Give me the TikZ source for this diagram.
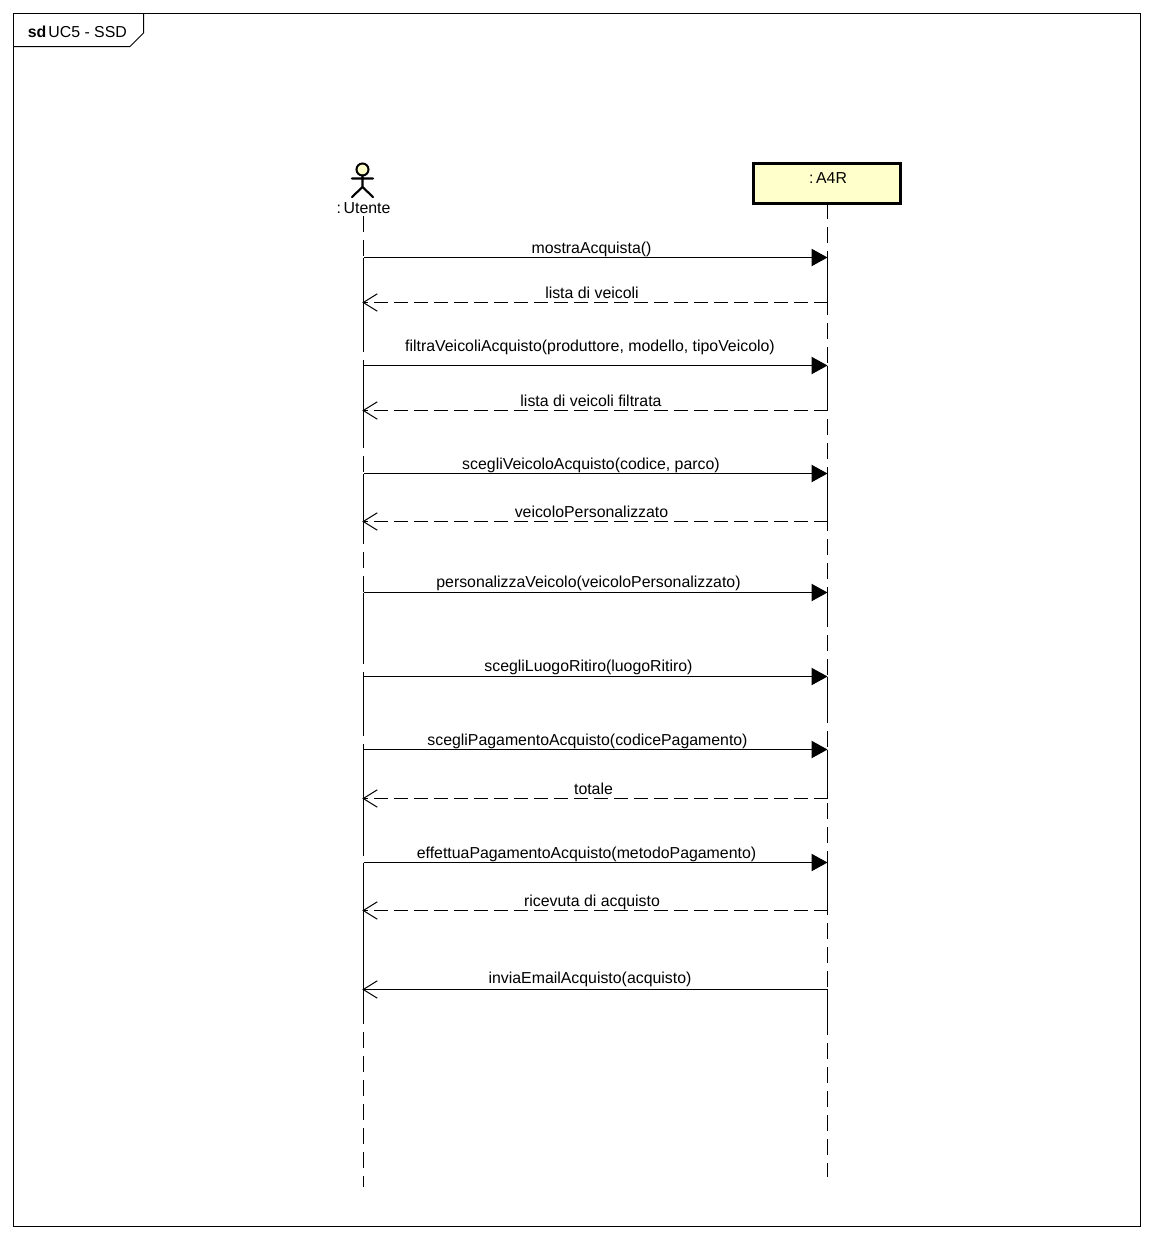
\documentclass[tikz,border=0pt]{standalone}
\usepackage{fontspec}
\setmainfont{Liberation Sans}
\usetikzlibrary{arrows.meta}
\definecolor{noteyellow}{HTML}{FFFFCC}
\tikzset{
  x=0.75pt,y=-0.75pt,
  frameline/.style={draw=black,line width=0.75pt},
  lifeline/.style={draw=black,line width=1.05pt,dash pattern=on 12pt off 6pt},
  holdline/.style={draw=black,line width=1.05pt},
  callmsg/.style={draw=black,line width=0.75pt,-{Triangle[length=12pt,width=13pt]}},
  replymsg/.style={draw=black,line width=0.75pt,shorten >=-0.9pt,dash pattern=on 10.5pt off 4.5pt,-{Straight Barb[length=10.5pt,width=13pt,line width=0.75pt]}},
  asyncmsg/.style={draw=black,line width=0.75pt,shorten >=-0.9pt,-{Straight Barb[length=10.5pt,width=13pt,line width=0.75pt]}},
  msglabel/.style={anchor=base,inner sep=0pt,font=\fontsize{11.9pt}{13pt}\selectfont},
  actorline/.style={draw=black,line width=1.6pt,line cap=round},
}
\begin{document}
\begin{tikzpicture}
\useasboundingbox (0,0) rectangle (1153,1240);
\fill[white] (0,0) rectangle (1153,1240);
% frame
\draw[frameline] (13.5,13.5) rectangle (1140.5,1226.5);
\draw[frameline] (13.5,46.5) -- (130,46.5) -- (143.5,33) -- (143.5,13.5);
\node[msglabel,anchor=base west] (frametitle) at (27.5,37.5) {\textbf{sd}\hspace{1.6pt}UC5 - SSD};
% participants
\node[draw=black,fill=noteyellow,line width=2.25pt,outer sep=0pt,minimum width=110.25pt,minimum height=30pt,inner sep=0pt,anchor=north west] (sys) at (753.5,163.5) {};
\node[msglabel] (syslabel) at (828,183.7) {:\hspace{2pt}A4R};
\draw[actorline,fill=noteyellow,line width=1.5pt] (362.5,169.5) circle (6);
\draw[actorline] (362.5,175.5) -- (362.5,187) (352,178.5) -- (373,178.5) (352,197) -- (362.5,187) -- (373,197);
\node[msglabel] (actorlabel) at (363.5,213.7) {:\hspace{2pt}Utente};
% lifeline anchors
\coordinate (uTop) at (363.5,216);
\coordinate (uEnd) at (363.5,1187);
\coordinate (aTop) at (827.5,203);
\coordinate (aEnd) at (827.5,1177);
\foreach \yy in {257,302,365,410,473,521,592,676,749,798,862,910,989,345,440,540,650,725,845,1015,615,710,1020}{
  \coordinate (u\yy) at (363.5,\yy+0.5);
  \coordinate (a\yy) at (827.5,\yy+0.5);
}
\draw[lifeline] (uTop) -- (uEnd);
\draw[lifeline] (aTop) -- (aEnd);
\draw[holdline] (u257) -- (u345) (u365) -- (u440) (u473) -- (u540) (u592) -- (u650) (u676) -- (u725) (u749) -- (u845) (u862) -- (u1015);
\draw[holdline] (a257) -- (a302) (a365) -- (a410) (a473) -- (a521) (a592) -- (a615) (a676) -- (a710) (a749) -- (a798) (a862) -- (a910) (a989) -- (a1020);
% messages
\draw[callmsg] (u257) -- (a257);
\draw[replymsg] (a302) -- (u302);
\draw[callmsg] (u365) -- (a365);
\draw[replymsg] (a410) -- (u410);
\draw[callmsg] (u473) -- (a473);
\draw[replymsg] (a521) -- (u521);
\draw[callmsg] (u592) -- (a592);
\draw[callmsg] (u676) -- (a676);
\draw[callmsg] (u749) -- (a749);
\draw[replymsg] (a798) -- (u798);
\draw[callmsg] (u862) -- (a862);
\draw[replymsg] (a910) -- (u910);
\draw[asyncmsg] (a989) -- (u989);
% labels
\node[msglabel] (m1) at (591.5,253.2) {mostraAcquista()};
\node[msglabel] (m2) at (592,298.2) {lista di veicoli};
\node[msglabel] (m3) at (590,351.2) {filtraVeicoliAcquisto(produttore, modello, tipoVeicolo)};
\node[msglabel] (m4) at (591,406.2) {lista di veicoli filtrata};
\node[msglabel] (m5) at (591,469.2) {scegliVeicoloAcquisto(codice, parco)};
\node[msglabel] (m6) at (591.5,517.2) {veicoloPersonalizzato};
\node[msglabel] (m7) at (588.5,587.2) {personalizzaVeicolo(veicoloPersonalizzato)};
\node[msglabel] (m8) at (588.5,671.2) {scegliLuogoRitiro(luogoRitiro)};
\node[msglabel] (m9) at (587.5,745.2) {scegliPagamentoAcquisto(codicePagamento)};
\node[msglabel] (m10) at (593.5,794.2) {totale};
\node[msglabel] (m11) at (586.5,858.2) {effettuaPagamentoAcquisto(metodoPagamento)};
\node[msglabel] (m12) at (592,906.2) {ricevuta di acquisto};
\node[msglabel] (m13) at (590,983.2) {inviaEmailAcquisto(acquisto)};
\end{tikzpicture}
\end{document}
